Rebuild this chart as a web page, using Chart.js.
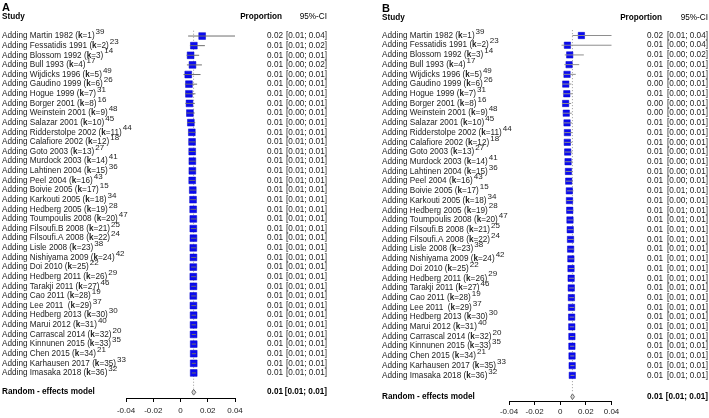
<!DOCTYPE html>
<html lang="en">
<head>
<meta charset="UTF-8">
<title>Cumulative meta-analysis</title>
<script src="https://cdn.jsdelivr.net/npm/chart.js@4.4.1/dist/chart.umd.min.js"></script>
<style>
  html, body { margin: 0; padding: 0; background: #fff; }
  #wrap { position: relative; width: 709px; height: 418px; }
  canvas { position: absolute; top: 0; }
</style>
</head>
<body>
<div id="wrap">
  <canvas id="chartA" width="355" height="418" style="left:0"></canvas>
  <canvas id="chartB" width="354" height="418" style="left:355px"></canvas>
</div>
<script>
const studies = ['Martin 1982', 'Fessatidis 1991', 'Blossom 1992', 'Bull 1993', 'Wijdicks 1996',
  'Gaudino 1999', 'Hogue 1999', 'Borger 2001', 'Weinstein 2001', 'Salazar 2001', 'Ridderstolpe 2002',
  'Calafiore 2002', 'Goto 2003', 'Murdock 2003', 'Lahtinen 2004', 'Peel 2004', 'Boivie 2005',
  'Karkouti 2005', 'Hedberg 2005', 'Toumpoulis 2008', 'Filsoufi.B 2008', 'Filsoufi.A 2008',
  'Lisle 2008', 'Nishiyama 2009', 'Doi 2010', 'Hedberg 2011', 'Tarakji 2011', 'Cao 2011',
  'Lee 2011 ', 'Hedberg 2013', 'Marui 2012', 'Carrascal 2014', 'Kinnunen 2015', 'Chen 2015',
  'Karhausen 2017', 'Imasaka 2018'];
const refs = [39, 23, 14, 17, 49, 26, 31, 16, 48, 45, 44, 18, 27, 41, 36, 43, 15, 34, 28, 47,
  25, 24, 38, 42, 22, 29, 46, 19, 37, 30, 40, 20, 35, 21, 33, 32];

// panel A
const estA = [0.0159, 0.0098, 0.0074, 0.0088, 0.0057, 0.0062, 0.0062, 0.0066, 0.0069, 0.0076,
  0.0083, 0.0085, 0.0086, 0.0087, 0.0087, 0.0086, 0.0090, 0.0092, 0.0093, 0.0094, 0.0094, 0.0095,
  0.0094, 0.0095, 0.0094, 0.0094, 0.0095, 0.0094, 0.0095, 0.0096, 0.0096, 0.0096, 0.0097, 0.0097,
  0.0097, 0.0097];
const lowA = [0.0056, 0.0069, 0.0045, 0.0047, 0.0022, 0.0032, 0.0033, 0.0036, 0.0044, 0.0048,
  0.0056, 0.0060, 0.0062, 0.0064, 0.0065, 0.0065, 0.0069, 0.0071, 0.0073, 0.0075, 0.0076, 0.0077,
  0.0077, 0.0078, 0.0078, 0.0078, 0.0079, 0.0079, 0.0080, 0.0081, 0.0081, 0.0082, 0.0082, 0.0083,
  0.0083, 0.0083];
const highA = [0.0418, 0.0179, 0.0137, 0.0157, 0.0147, 0.0122, 0.0110, 0.0105, 0.0104, 0.0108,
  0.0110, 0.0112, 0.0112, 0.0113, 0.0112, 0.0110, 0.0114, 0.0115, 0.0116, 0.0117, 0.0116, 0.0117,
  0.0115, 0.0116, 0.0114, 0.0114, 0.0114, 0.0113, 0.0114, 0.0114, 0.0113, 0.0113, 0.0114, 0.0114,
  0.0113, 0.0113];
const pooledA = [0.0096, 0.0083, 0.0113];

// panel B
const estB = [0.0165, 0.0056, 0.0074, 0.0069, 0.0053, 0.0043, 0.0051, 0.0042, 0.0047, 0.0053,
  0.0056, 0.0055, 0.0058, 0.0061, 0.0064, 0.0066, 0.0071, 0.0072, 0.0074, 0.0076, 0.0078, 0.0080,
  0.0081, 0.0083, 0.0084, 0.0085, 0.0086, 0.0087, 0.0088, 0.0089, 0.0090, 0.0091, 0.0091, 0.0092,
  0.0093, 0.0094];
const lowB = [0.0095, 0.0010, 0.0035, 0.0032, 0.0022, 0.0014, 0.0020, 0.0013, 0.0021, 0.0027,
  0.0031, 0.0032, 0.0035, 0.0038, 0.0041, 0.0044, 0.0053, 0.0049, 0.0054, 0.0056, 0.0058, 0.0060,
  0.0062, 0.0064, 0.0066, 0.0067, 0.0069, 0.0070, 0.0072, 0.0073, 0.0074, 0.0076, 0.0077, 0.0078,
  0.0079, 0.0080];
const highB = [0.0439, 0.0445, 0.0184, 0.0148, 0.0121, 0.0087, 0.0095, 0.0085, 0.0090, 0.0092,
  0.0094, 0.0093, 0.0094, 0.0096, 0.0098, 0.0099, 0.0103, 0.0102, 0.0103, 0.0104, 0.0105, 0.0106,
  0.0106, 0.0107, 0.0107, 0.0108, 0.0108, 0.0108, 0.0109, 0.0109, 0.0109, 0.0110, 0.0110, 0.0110,
  0.0111, 0.0111];
const pooledB = [0.0095, 0.0082, 0.0111];

const xTicks = [-0.04, -0.02, 0, 0.02, 0.04];

const FONT = '"Liberation Sans", Arial, sans-serif';

function textPlugin(cfg, est, lo, hi, pooled) {
  return {
    id: 'forestText' + cfg.letter,
    afterDraw(chart) {
      const ctx = chart.ctx;
      const ys = chart.scales.y;
      ctx.save();
      ctx.textBaseline = 'middle';
      ctx.fillStyle = '#000';
      ctx.font = 'bold 11px ' + FONT;
      ctx.textAlign = 'left';
      ctx.fillText(cfg.letter, cfg.letterX, cfg.letterY);

      ctx.font = 'bold 8.2px ' + FONT;
      ctx.fillText('Study', cfg.labelX, cfg.headY);
      ctx.textAlign = 'right';
      ctx.fillText('Proportion', cfg.valX - 1, cfg.headY);
      ctx.font = '8.2px ' + FONT;
      ctx.fillText('95%-CI', cfg.ciX, cfg.headY);

      ctx.fillStyle = '#222';
      studies.forEach((s, i) => {
        const py = ys.getPixelForValue(i + 1);
        let x = cfg.labelX;
        ctx.textAlign = 'left';
        ctx.font = '8.2px ' + FONT;
        const pre = 'Adding ' + s + ' (';
        ctx.fillText(pre, x, py);
        x += ctx.measureText(pre).width;
        ctx.font = 'bold 8.2px ' + FONT;
        ctx.fillText('k', x, py);
        x += ctx.measureText('k').width;
        ctx.font = '8.2px ' + FONT;
        const post = '=' + (i + 1) + ')';
        ctx.fillText(post, x, py);
        x += ctx.measureText(post).width;
        ctx.font = '8px ' + FONT;
        ctx.fillText(String(refs[i]), x + 1, py - 4);

        ctx.font = '8.2px ' + FONT;
        ctx.textAlign = 'right';
        ctx.fillText(est[i].toFixed(2), cfg.valX, py);
        ctx.fillText('[' + lo[i].toFixed(2) + '; ' + hi[i].toFixed(2) + ']', cfg.ciX, py);
      });

      const pr = ys.getPixelForValue(cfg.pooledRow);
      ctx.fillStyle = '#000';
      ctx.font = 'bold 8.2px ' + FONT;
      ctx.textAlign = 'left';
      ctx.fillText('Random - effects model', cfg.labelX, pr);
      ctx.textAlign = 'right';
      ctx.fillText(pooled[0].toFixed(2), cfg.valX, pr);
      ctx.fillText('[' + pooled[1].toFixed(2) + '; ' + pooled[2].toFixed(2) + ']', cfg.ciX, pr);
      ctx.restore();
    }
  };
}

function makePanel(id, cfg, est, lo, hi, pooled) {
  const datasets = [];
  // CI lines (drawn on top of the squares)
  est.forEach((v, i) => {
    datasets.push({
      data: [{x: lo[i], y: i + 1}, {x: hi[i], y: i + 1}],
      showLine: true, borderColor: cfg.lineColor, borderWidth: 1, pointRadius: 0, order: 0
    });
  });
  datasets.push({
    data: est.map((v, i) => ({x: v, y: i + 1})),
    pointStyle: 'rect', pointRadius: cfg.boxR, backgroundColor: '#0b0bf0',
    borderColor: '#0000c8', borderWidth: 0.5, order: 1
  });
  // pooled estimate: dotted reference line and diamond
  datasets.push({
    data: [{x: pooled[0], y: 0.45}, {x: pooled[0], y: cfg.pooledRow - 0.4}],
    showLine: true, borderColor: '#9a9a9a', borderWidth: 1, borderDash: [1, 2],
    pointRadius: 0, order: 2
  });
  const r = cfg.pooledRow;
  datasets.push({
    data: [{x: pooled[1], y: r}, {x: pooled[0], y: r - 0.3}, {x: pooled[2], y: r},
      {x: pooled[0], y: r + 0.3}, {x: pooled[1], y: r}],
    showLine: true, fill: 'shape', backgroundColor: '#d8d8d8', borderColor: '#6a6a6a',
    borderWidth: 1, pointRadius: 0, order: 0
  });

  return new Chart(document.getElementById(id), {
    type: 'scatter',
    data: { datasets },
    options: {
      responsive: false,
      animation: false,
      devicePixelRatio: 1,
      layout: { padding: { left: cfg.left, right: cfg.right, top: cfg.top, bottom: 0 } },
      plugins: { legend: { display: false }, tooltip: { enabled: false } },
      scales: {
        x: {
          type: 'linear', min: -0.04, max: 0.04,
          afterFit: s => { s.height = cfg.axisH; },
          afterBuildTicks: s => { s.ticks = xTicks.map(v => ({value: v})); },
          ticks: {
            color: '#222', padding: cfg.tickPad, font: {family: FONT, size: 8},
            callback: v => String(v)
          },
          grid: { drawOnChartArea: false, drawTicks: true, tickLength: 4, color: '#000', lineWidth: 1 },
          border: { display: true, color: '#000', width: 1 }
        },
        y: { type: 'linear', reverse: true, min: 0, max: cfg.yMax, display: false }
      }
    },
    plugins: [textPlugin(cfg, est, lo, hi, pooled)]
  });
}

makePanel('chartA', {
  letter: 'A', letterX: 2, letterY: 8, labelX: 2, headY: 17, valX: 283, ciX: 327,
  left: 126, right: 120, top: 26.4, yMax: 38.6, axisH: 20, tickPad: 4, pooledRow: 38,
  boxR: 4.8, lineColor: '#6e6e6e'
}, estA, lowA, highA, pooledA);

makePanel('chartB', {
  letter: 'B', letterX: 27, letterY: 9, labelX: 27, headY: 18, valX: 308, ciX: 353,
  left: 154, right: 97.5, top: 25.8, yMax: 38.64, axisH: 17, tickPad: 2, pooledRow: 38.2,
  boxR: 4.5, lineColor: '#8e8e8e'
}, estB, lowB, highB, pooledB);
</script>
</body>
</html>
